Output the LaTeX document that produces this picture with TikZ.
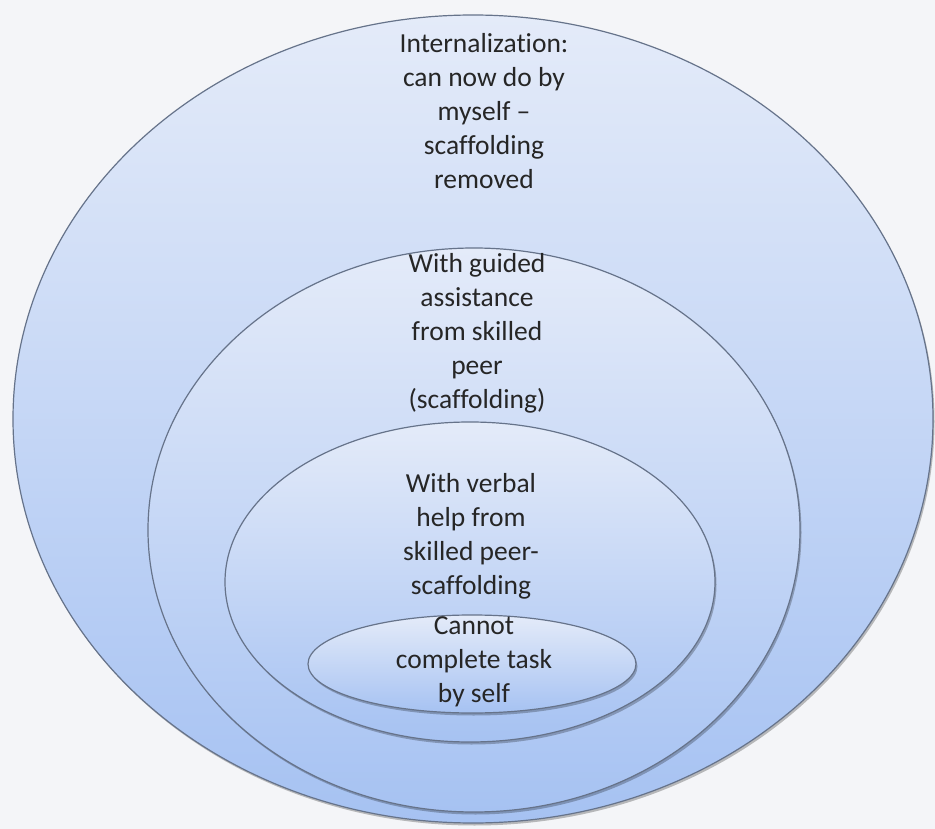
\documentclass[tikz,border=0pt]{standalone}
\usepackage{fontspec}
\setmainfont[Ligatures={NoCommon}]{Carlito}
\usetikzlibrary{shapes.geometric}
\definecolor{bgcol}{HTML}{F4F5F8}
\definecolor{edgecol}{HTML}{66738A}
\definecolor{topc}{HTML}{E4EBF9}
\definecolor{botc}{HTML}{A6C2F2}
\definecolor{txtc}{HTML}{262626}
\tikzset{
  ring/.style={ellipse, draw=edgecol, line width=1.2pt, inner sep=0pt,
    top color=topc, bottom color=botc, shading angle=0},
  shadowring/.style={ellipse, fill=black, fill opacity=0.25, draw=none, inner sep=0pt},
  label/.style={align=center, text=txtc, font=\fontsize{27.5}{34}\selectfont}
}
\begin{document}
\begin{tikzpicture}[x=1pt,y=-1pt]
\useasboundingbox (0,0) rectangle (935,829);
\fill[bgcol] (0,0) rectangle (935,829);
% outer
\node[shadowring, minimum width=920pt, minimum height=808pt] (outersh) at (474.5,421.5) {};
\node[ring, minimum width=920pt, minimum height=808pt] (outer) at (473,419) {};
% guided
\node[shadowring, minimum width=652pt, minimum height=564pt] (guidedsh) at (475.5,532.5) {};
\node[ring, minimum width=652pt, minimum height=564pt] (guided) at (474,530) {};
% verbal
\node[shadowring, minimum width=490pt, minimum height=320pt] (verbalsh) at (471.5,584.5) {};
\node[ring, minimum width=490pt, minimum height=320pt] (verbal) at (470,582) {};
% cannot
\node[shadowring, minimum width=328pt, minimum height=98pt] (cannotsh) at (473.5,666.5) {};
\node[ring, minimum width=328pt, minimum height=98pt] (cannot) at (472,664) {};
% texts
\node[label] (t1) at (484,111) {Internalization:\\can now do by\\myself \textendash\\scaffolding\\removed};
\node[label] (t2) at (477,333) {With guided\\assistance\\from skilled\\peer\\(scaffolding)};
\node[label] (t3) at (471,536) {With verbal\\help from\\skilled peer-\\scaffolding};
\node[label] (t4) at (474,662) {Cannot\\complete task\\by self};
\end{tikzpicture}
\end{document}
